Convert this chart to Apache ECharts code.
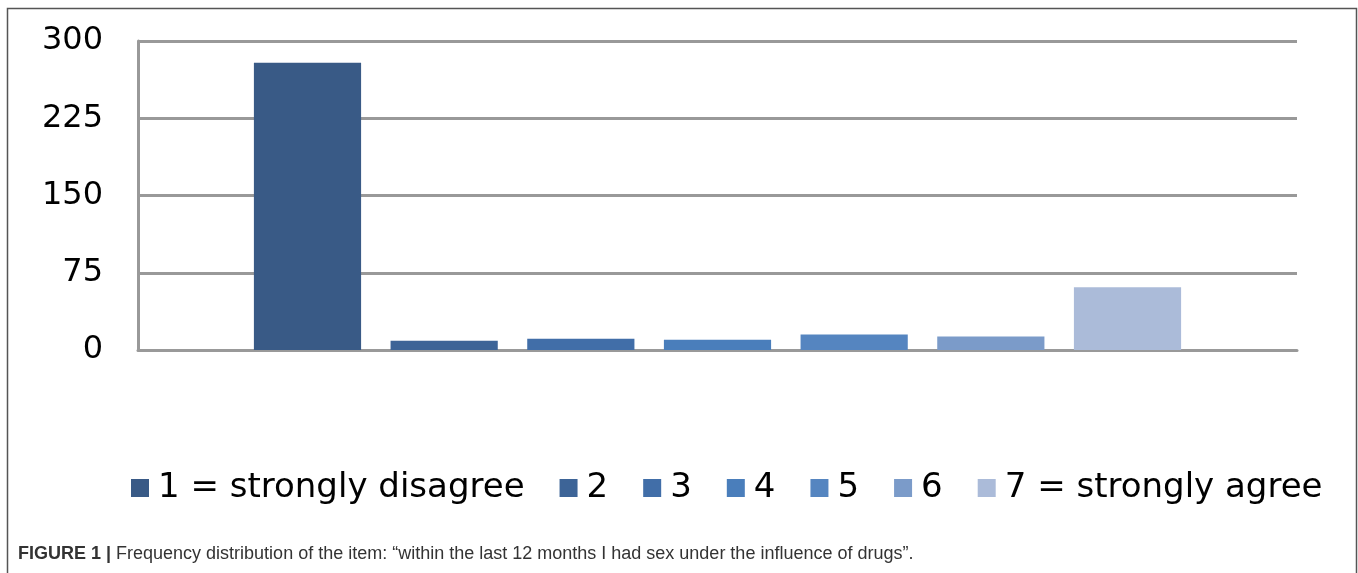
<!DOCTYPE html>
<html>
<head>
<meta charset="utf-8">
<script src="https://cdn.jsdelivr.net/npm/echarts@6/dist/echarts.min.js"></script>
<style>
  html, body { margin: 0; padding: 0; background: #fff; }
  #chart { width: 1358px; height: 573px; }
</style>
</head>
<body>
<div id="chart"></div>
<script>
// answer categories (one series each) and their counts
var seriesNames = ['1 = strongly disagree', '2', '3', '4', '5', '6', '7 = strongly agree'];
var counts = [279, 9, 11, 10, 15, 13, 61];
var barColors = ['#395a86', '#3d6497', '#416ea8', '#4a7ebb', '#5585c0', '#7b9bc9', '#abbbd9'];
var yTicks = [0, 75, 150, 225, 300];

var chart = echarts.init(document.getElementById('chart'));

var series = [];
for (var i = 0; i < seriesNames.length; i++) {
  series.push({
    name: seriesNames[i],
    type: 'bar',
    data: [counts[i]],
    barGap: '27.5%',
    barCategoryGap: '20%',
    itemStyle: { color: barColors[i] }
  });
}

var option = {
  backgroundColor: '#fff',
  animation: false,
  textStyle: { fontFamily: 'DejaVu Sans' },
  grid: { left: 138, right: 61, top: 41, bottom: 223 },
  xAxis: {
    type: 'category',
    data: [''],
    axisLine: { show: true, lineStyle: { color: '#999', width: 3 } },
    axisTick: { show: false },
    axisLabel: { show: false }
  },
  yAxis: {
    type: 'value',
    min: yTicks[0],
    max: yTicks[yTicks.length - 1],
    interval: 75,
    axisLine: { show: true, lineStyle: { color: '#999', width: 3 } },
    axisTick: { show: false },
    axisLabel: { fontSize: 32, color: '#000', margin: 35, fontFamily: 'DejaVu Sans' },
    splitLine: { show: true, lineStyle: { color: '#999', width: 3 } }
  },
  legend: {
    left: 126,
    top: 466,
    itemWidth: 18,
    itemHeight: 18,
    itemGap: 35,
    icon: 'rect',
    textStyle: { fontSize: 34, color: '#000', fontFamily: 'DejaVu Sans', padding: [0, 0, 0, 4] },
    data: seriesNames
  },
  graphic: [
    {
      type: 'rect',
      shape: { x: 7.5, y: 8.5, width: 1349, height: 600 },
      style: { fill: null, stroke: '#555', lineWidth: 1.5 },
      silent: true
    },
    {
      type: 'text',
      left: 18,
      top: 545,
      style: {
        text: '{b|FIGURE 1 |} Frequency distribution of the item: \u201cwithin the last 12 months I had sex under the influence of drugs\u201d.',
        font: '18px "Liberation Sans", sans-serif',
        fill: '#333',
        rich: {
          b: { fontWeight: 'bold', fontSize: 18, fontFamily: '"Liberation Sans", sans-serif', fill: '#333' }
        }
      }
    }
  ],
  series: series
};

chart.setOption(option);
</script>
</body>
</html>
